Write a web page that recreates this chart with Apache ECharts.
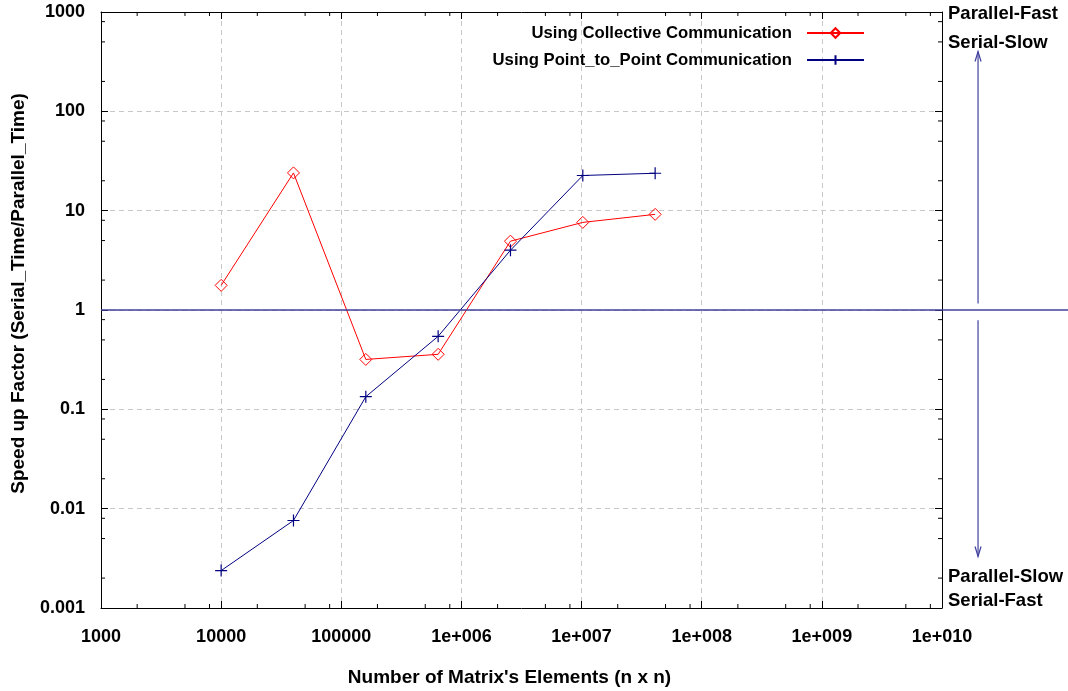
<!DOCTYPE html>
<html>
<head>
<meta charset="utf-8">
<script src="https://cdn.jsdelivr.net/npm/echarts@6/dist/echarts.min.js"></script>
<style>
  html, body { margin: 0; padding: 0; background: #fff; }
  #main { width: 1068px; height: 691px; }
</style>
</head>
<body>
<div id="main"></div>
<script>
// 数据
let sizes = [10000, 40000, 160000, 640000, 2560000, 10240000, 40960000];
let collective = [1.77, 24.0, 0.318, 0.358, 4.93, 7.62, 9.18];
let pointToPoint = [0.00238, 0.0076, 0.134, 0.543, 4.0, 22.6, 23.8];
let seriesNames = ['Using Collective Communication', 'Using Point_to_Point Communication'];
let minorSteps = [2, 5, 8];

let font = "'Liberation Sans', Arial, Helvetica, sans-serif";
let blueLine = '#40409f';

let myChart = echarts.init(document.getElementById('main'));

function pairs(xs, ys) {
    let out = [];
    for (let i = 0; i < xs.length; i++) out.push([xs[i], ys[i]]);
    return out;
}

function expOf(v) { return Math.round(Math.log10(v)); }

function xLabel(v) {
    let e = expOf(v);
    if (e < 6) return String(Math.pow(10, e));
    return '1e+' + String(e).padStart(3, '0');
}
function yLabel(v) {
    let e = expOf(v);
    if (e < 0) return Math.pow(10, e).toFixed(-e);
    return String(Math.pow(10, e));
}

let plusSymbol = 'path://M0,5L10,5M5,0L5,10';

let baseX = {
    type: 'log', logBase: 10, min: 1000, max: 1e10, interval: 1,
    axisLine: { show: true, lineStyle: { color: '#000', width: 1 } },
    axisTick: { show: true, inside: true, length: 7, lineStyle: { color: '#000' } }
};
let baseY = {
    type: 'log', logBase: 10, min: 0.001, max: 1000, interval: 1,
    axisLine: { show: true, lineStyle: { color: '#000', width: 1 } },
    axisTick: { show: true, inside: true, length: 7, lineStyle: { color: '#000' } }
};
let legendText = { fontFamily: font, fontWeight: 'bold', fontSize: 16.7, color: '#000', padding: [0, 10, 0, 0] };
let tickText = { fontFamily: font, fontWeight: 'bold', fontSize: 18, color: '#000' };
let titleText = { fontFamily: font, fontWeight: 'bold', fontSize: 19, color: '#000' };

let option = {
    animation: false,
    textStyle: { fontFamily: font },
    grid: { left: 101, right: 126, top: 12, bottom: 83, containLabel: false, outerBoundsMode: 'none' },
    legend: [{
        data: [{ name: seriesNames[0] }],
        right: 203, top: 24.5, padding: 0,
        align: 'right',
        itemWidth: 57, itemHeight: 12,
        textStyle: legendText
    }, {
        data: [{ name: seriesNames[1] }],
        right: 203, top: 51.5, padding: 0,
        align: 'right',
        itemWidth: 57, itemHeight: 12,
        textStyle: legendText
    }],
    xAxis: [
        Object.assign({}, baseX, {
            position: 'bottom',
            name: "Number of Matrix's Elements (n x n)",
            nameLocation: 'middle', nameGap: 60,
            nameTextStyle: Object.assign({ padding: [0, 24, 0, 0] }, titleText),
            axisLabel: Object.assign({ formatter: xLabel, margin: 20 }, tickText),
            splitLine: { show: true, lineStyle: { color: '#c8c8c8', type: [5, 4], width: 1 } }
        }),
        Object.assign({}, baseX, {
            position: 'top',
            axisLabel: { show: false },
            splitLine: { show: false }
        })
    ],
    yAxis: [
        Object.assign({}, baseY, {
            position: 'left',
            name: 'Speed up Factor (Serial_Time/Parallel_Time)',
            nameLocation: 'middle', nameGap: 73,
            nameTextStyle: Object.assign({ padding: [0, 0, 0, 33] }, titleText),
            axisLabel: Object.assign({ formatter: yLabel, margin: 16 }, tickText),
            splitLine: { show: true, lineStyle: { color: '#c8c8c8', type: [5, 4], width: 1 } }
        }),
        Object.assign({}, baseY, {
            position: 'right',
            axisLabel: { show: false },
            splitLine: { show: false }
        })
    ],
    series: [{
        name: seriesNames[0],
        type: 'line',
        data: pairs(sizes, collective),
        symbol: 'diamond',
        symbolSize: 12,
        showAllSymbol: true,
        lineStyle: { color: '#ff0000', width: 1 },
        itemStyle: { color: 'rgba(255,255,255,0)', borderColor: '#ff0000', borderWidth: 1 },
        z: 3
    }, {
        name: seriesNames[1],
        type: 'line',
        data: pairs(sizes, pointToPoint),
        symbol: plusSymbol,
        symbolSize: 12,
        showAllSymbol: true,
        lineStyle: { color: '#000080', width: 1 },
        itemStyle: { color: 'rgba(0,0,0,0)', borderColor: '#000080', borderWidth: 1.2 },
        z: 4
    }]
};

myChart.setOption(option);

// 次刻度、y=1 参考线、右侧箭头和文字
function drawExtras() {
    let toPx = function (p) { return myChart.convertToPixel({ xAxisIndex: 0, yAxisIndex: 0 }, p); };
    let g = [];
    let bl = toPx([1000, 0.001]);
    let tr = toPx([1e10, 1000]);
    let tickStyle = { stroke: '#000', lineWidth: 1 };

    for (let e = 3; e < 10; e++) {
        minorSteps.forEach(function (m) {
            let px = toPx([m * Math.pow(10, e), 1])[0];
            g.push({ type: 'line', shape: { x1: px, y1: bl[1], x2: px, y2: bl[1] - 4 }, style: tickStyle });
            g.push({ type: 'line', shape: { x1: px, y1: tr[1], x2: px, y2: tr[1] + 4 }, style: tickStyle });
        });
    }
    for (let e = -3; e < 3; e++) {
        minorSteps.forEach(function (m) {
            let py = toPx([1000, m * Math.pow(10, e)])[1];
            g.push({ type: 'line', shape: { x1: bl[0], y1: py, x2: bl[0] + 4, y2: py }, style: tickStyle });
            g.push({ type: 'line', shape: { x1: tr[0], y1: py, x2: tr[0] - 4, y2: py }, style: tickStyle });
        });
    }

    // y = 1 line, runs past the right border
    let one = toPx([1000, 1]);
    g.push({ type: 'line', z: 5, shape: { x1: one[0], y1: one[1], x2: myChart.getWidth(), y2: one[1] },
        style: { stroke: blueLine, lineWidth: 1.5 } });

    // arrows
    let ax = toPx([Math.pow(10, 10.3), 1])[0];
    let upStart = toPx([1000, 1.16])[1], upEnd = toPx([1000, 400])[1];
    let dnStart = toPx([1000, 0.79])[1], dnEnd = toPx([1000, 0.0033])[1];
    let arrowStyle = { stroke: blueLine, lineWidth: 1.2, fill: null };
    g.push({ type: 'line', shape: { x1: ax, y1: upStart, x2: ax, y2: upEnd }, style: arrowStyle });
    g.push({ type: 'polyline', shape: { points: [[ax - 3, upEnd + 10], [ax, upEnd], [ax + 3, upEnd + 10]] }, style: arrowStyle });
    g.push({ type: 'line', shape: { x1: ax, y1: dnStart, x2: ax, y2: dnEnd }, style: arrowStyle });
    g.push({ type: 'polyline', shape: { points: [[ax - 3, dnEnd - 10], [ax, dnEnd], [ax + 3, dnEnd - 10]] }, style: arrowStyle });

    let txt = function (s, y) {
        return { type: 'text', x: tr[0] + 6, y: y,
            style: { text: s, font: 'bold 18.5px ' + font, fill: '#000', verticalAlign: 'middle' } };
    };
    g.push(txt('Parallel-Fast', 14));
    g.push(txt('Serial-Slow', 43));
    g.push(txt('Parallel-Slow', 577));
    g.push(txt('Serial-Fast', 601));

    myChart.setOption({ graphic: g });
}
drawExtras();
</script>
</body>
</html>
